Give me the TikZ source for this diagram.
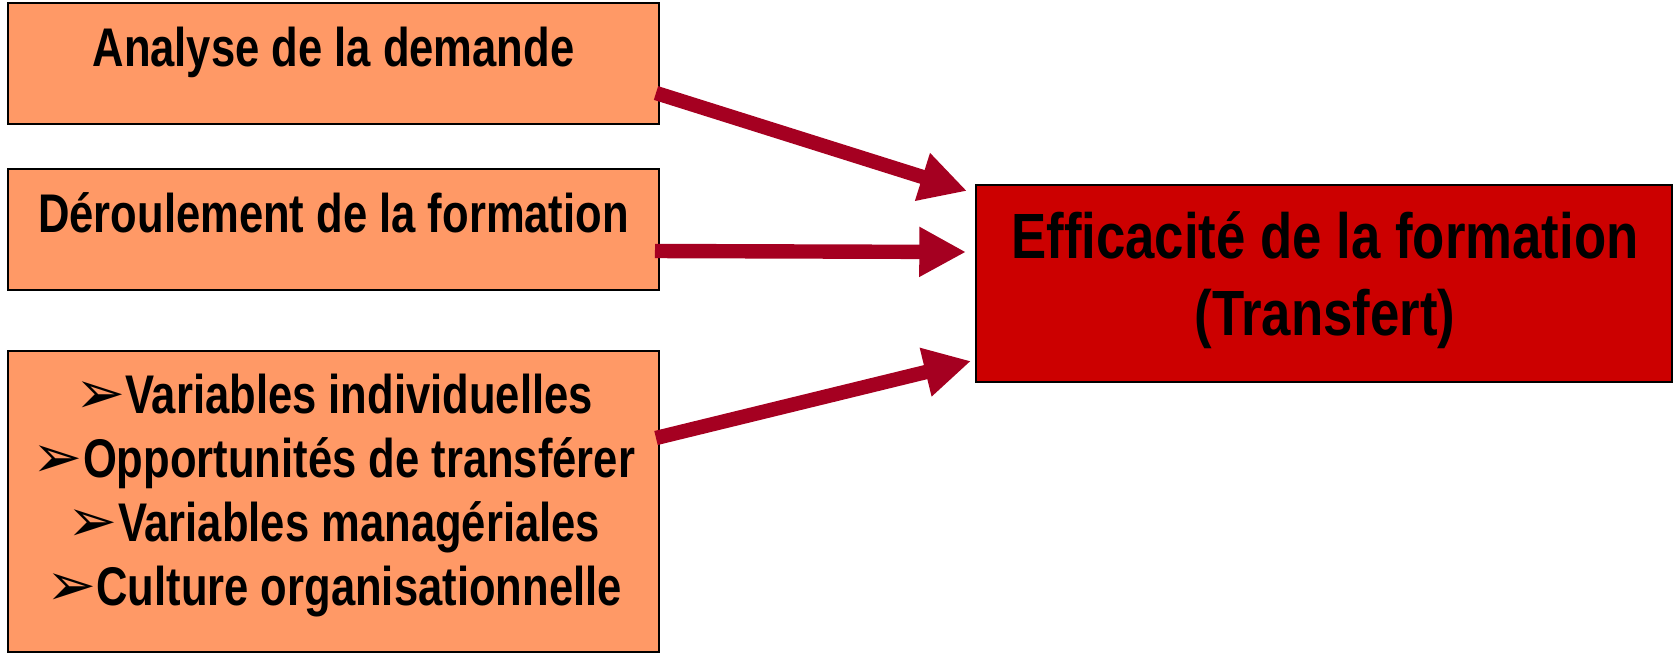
\documentclass[tikz,border=0pt]{standalone}
\usepackage{fontspec}
\newfontfamily\narrowfont{Liberation Sans}[FakeStretch=0.8]
\newfontfamily\widenarrowfont{Liberation Sans}[FakeStretch=0.825]
\newfontfamily\dingfont{DejaVu Sans}
\usetikzlibrary{arrows.meta,%
                positioning}
\definecolor{saumon}{HTML}{FF9966}
\definecolor{rouge}{HTML}{CC0000}
\definecolor{bordeaux}{HTML}{A50021}
\newcommand{\puce}{\smash{\dingfont\fontsize{34pt}{34pt}\selectfont ➢}}

\begin{document}
\begin{tikzpicture}[x=0.02cm,y=-0.02cm]
  \useasboundingbox (0,0) rectangle (1677,653);
  \tikzstyle{BoxStyle}=[draw=black,line width=1.2pt,fill=saumon,inner sep=0pt,
                        minimum width=13.02cm]
  \tikzstyle{TextStyle}=[inner sep=0pt,anchor=base,align=center,
                         font=\narrowfont\bfseries\fontsize{31pt}{36.3pt}\selectfont]
  \tikzstyle{BigText}=[inner sep=0pt,anchor=base,align=center,
                       font=\widenarrowfont\bfseries\fontsize{36.4pt}{43.65pt}\selectfont]
  \tikzstyle{ArrowStyle}=[draw=bordeaux,line width=8.2pt,
                          -{Triangle[length=26.6pt,width=26.6pt]}]
  % les trois cadres de gauche
  \node[BoxStyle,minimum height=2.42cm] (A) at (333.5,63.5) {};
  \node[TextStyle] (tA) at (333.5,66) {Analyse de la demande};
  \node[BoxStyle,minimum height=2.42cm] (B) at (333.5,229.5) {};
  \node[TextStyle] (tB) at (333.5,232) {Déroulement de la formation};
  \node[BoxStyle,minimum height=6.02cm] (C) at (333.5,501.5) {};
  \node[TextStyle] (tC) at (334,605) {\puce Variables individuelles\\
    \puce Opportunités de transférer\\
    \puce Variables managériales\\
    \puce Culture organisationnelle};
  % le cadre de droite
  \node[BoxStyle,fill=rouge,minimum width=13.92cm,minimum height=3.94cm] (E) at (1324,283.5) {};
  \node[BigText] (tE) at (1325,335) {Efficacité de la formation\\(Transfert)};
  % les fleches
  \draw[ArrowStyle] ([shift={(-4,29.5)}]A.east) -- ([shift={(-8,7)}]E.north west);
  \draw[ArrowStyle] ([shift={(-5,21.5)}]B.east) -- ([shift={(-9,-31.5)}]E.west);
  \draw[ArrowStyle] ([shift={(-4,-63.5)}]C.east) -- ([shift={(-4,-22)}]E.south west);
\end{tikzpicture}
\end{document}
